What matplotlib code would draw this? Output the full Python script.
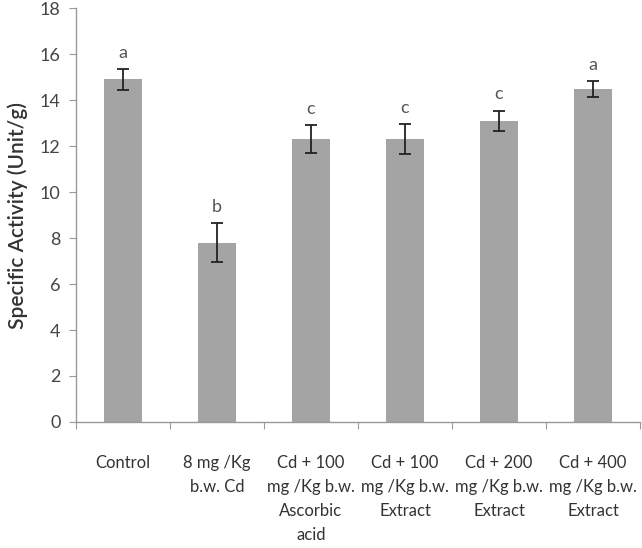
import matplotlib.pyplot as plt
import numpy as np

plt.rcParams['font.family'] = ['Lato', 'DejaVu Sans']

groups = ['Control', '8 mg /Kg\nb.w. Cd', 'Cd + 100\nmg /Kg b.w.\nAscorbic\nacid',
          'Cd + 100\nmg /Kg b.w.\nExtract', 'Cd + 200\nmg /Kg b.w.\nExtract',
          'Cd + 400\nmg /Kg b.w.\nExtract']
activity = [14.9, 7.8, 12.3, 12.3, 13.1, 14.5]
err = [0.45, 0.85, 0.6, 0.65, 0.45, 0.35]
letters = ['a', 'b', 'c', 'c', 'c', 'a']

fig = plt.figure(figsize=(6.42, 5.48), dpi=100)
ax = fig.add_axes([0.118, 0.23, 0.879, 0.755])

x = np.arange(len(groups))
ax.bar(x, activity, width=0.4, color='#a4a4a4', edgecolor='none', zorder=2)
ax.errorbar(x, activity, yerr=err, fmt='none', ecolor='#222222', elinewidth=1.3,
            capsize=4, capthick=1.3, zorder=3)
for xi, v, e, s in zip(x, activity, err, letters):
    ax.text(xi, v + e + 0.35, s, ha='center', va='bottom', fontsize=13, color='#555555')

ax.set_xlim(-0.5, len(groups) - 0.5)
ax.set_ylim(0, 18)
ax.set_yticks(np.arange(0, 19, 2))
ax.set_xticks(np.arange(-0.5, len(groups), 1))
ax.set_xticklabels([])
ax.set_xticks(x, minor=True)
ax.set_xticklabels(groups, minor=True, fontsize=12, color='#333333', linespacing=1.6, va='top')
ax.tick_params(axis='x', which='minor', length=0, pad=24)
ax.tick_params(axis='x', which='major', length=5, color='#999999', direction='out')
ax.tick_params(axis='y', length=5, color='#999999', labelsize=13, labelcolor='#444444', pad=6)

for s in ['top', 'right']:
    ax.spines[s].set_visible(False)
for s in ['left', 'bottom']:
    ax.spines[s].set_color('#999999')
    ax.spines[s].set_linewidth(1)

ax.set_ylabel('Specific Activity (Unit/g)', fontsize=15, fontweight='semibold', color='#333333', labelpad=8)

fig.savefig('out.png', dpi=100)
